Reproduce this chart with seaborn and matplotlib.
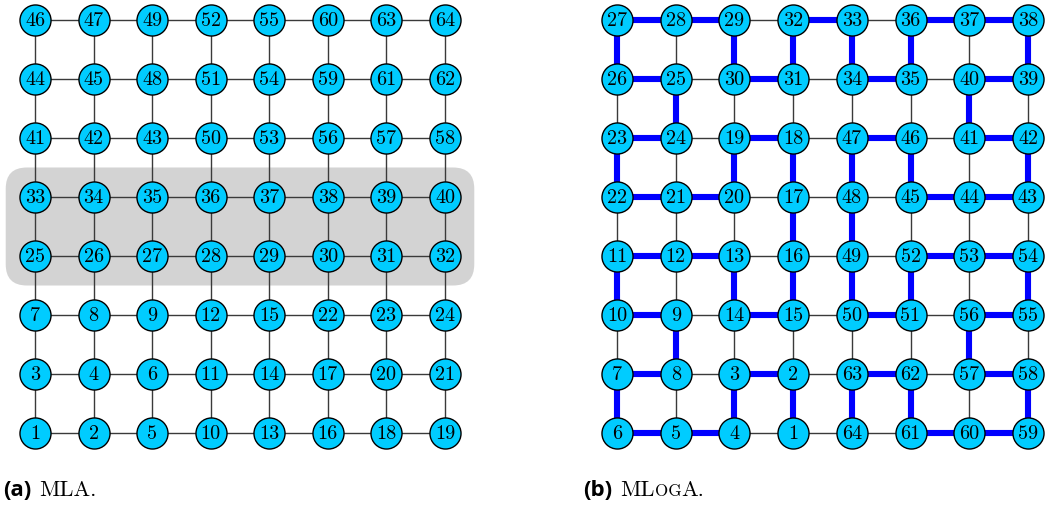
import numpy as np
import pandas as pd
import matplotlib
matplotlib.use("Agg")
import matplotlib.pyplot as plt
import seaborn as sns
from matplotlib.patches import FancyBboxPatch
from matplotlib.transforms import IdentityTransform

# ---------------- data ----------------
# node labels, rows listed top to bottom, columns left to right
mla_rows = [
    [46, 47, 49, 52, 55, 60, 63, 64],
    [44, 45, 48, 51, 54, 59, 61, 62],
    [41, 42, 43, 50, 53, 56, 57, 58],
    [33, 34, 35, 36, 37, 38, 39, 40],
    [25, 26, 27, 28, 29, 30, 31, 32],
    [7, 8, 9, 12, 15, 22, 23, 24],
    [3, 4, 6, 11, 14, 17, 20, 21],
    [1, 2, 5, 10, 13, 16, 18, 19],
]
mloga_rows = [
    [27, 28, 29, 32, 33, 36, 37, 38],
    [26, 25, 30, 31, 34, 35, 40, 39],
    [23, 24, 19, 18, 47, 46, 41, 42],
    [22, 21, 20, 17, 48, 45, 44, 43],
    [11, 12, 13, 16, 49, 52, 53, 54],
    [10, 9, 14, 15, 50, 51, 56, 55],
    [7, 8, 3, 2, 63, 62, 57, 58],
    [6, 5, 4, 1, 64, 61, 60, 59],
]
mla_band_rows = [3, 4]          # rows inside the grey band (top = 0)
caption_tags = ["(a)", "(b)"]
caption_a_parts = [("MLA.", True)]
caption_b_parts = [("ML", True), ("OG", False), ("A.", True)]  # small caps

# ---------------- style ----------------
W, H = 1051, 507
NODE_FILL = "#00CCFF"
PATH_BLUE = "#0000FF"
GRID_COL = "#3a3a3a"

sns.set_theme(style="white")
plt.rcParams["font.family"] = ["DejaVu Sans"]
plt.rcParams["text.color"] = "black"

fig = plt.figure(figsize=(W / 100, H / 100), dpi=100)

Y0, DY = 20.0, 59.0


def make_ax(px_left, px_right, x0px, dx):
    ax = fig.add_axes([px_left / W, 0, (px_right - px_left) / W, 1])
    ax.set_xlim((px_left - x0px) / dx, (px_right - x0px) / dx)
    ax.set_ylim((H - Y0) / DY, -Y0 / DY)
    ax.axis("off")
    return ax


def draw_grid(ax, rows, highlight_path):
    lab = np.array(rows)
    n_r, n_c = lab.shape
    for r in range(n_r):
        for c in range(n_c):
            for dr, dc in ((0, 1), (1, 0)):
                r2, c2 = r + dr, c + dc
                if r2 >= n_r or c2 >= n_c:
                    continue
                ax.plot([c, c2], [r, r2], color=GRID_COL, lw=1.0, zorder=1,
                        solid_capstyle="butt")
                if highlight_path and abs(lab[r, c] - lab[r2, c2]) == 1:
                    ax.plot([c, c2], [r, r2], color=PATH_BLUE, lw=4.4,
                            zorder=2, solid_capstyle="butt")
    df = pd.DataFrame(
        [(c, r, lab[r, c]) for r in range(n_r) for c in range(n_c)],
        columns=["col", "row", "label"],
    )
    sns.scatterplot(data=df, x="col", y="row", s=500, color=NODE_FILL,
                    edgecolor="black", linewidth=1.0, ax=ax, zorder=3,
                    legend=False)
    for _, rec in df.iterrows():
        ax.text(rec["col"], rec["row"] + 0.02, str(rec["label"]),
                ha="center", va="center", fontfamily="cmr10", fontsize=14.5,
                color="black", zorder=4)
    ax.set_xlabel("")
    ax.set_ylabel("")


# left panel
ax1 = make_ax(0, 525.5, 35.0, 58.57)
band = FancyBboxPatch((-0.5, min(mla_band_rows) - 0.5), 8.0,
                      len(mla_band_rows),
                      boxstyle="round,pad=0,rounding_size=0.36",
                      facecolor="#D3D3D3", edgecolor="none", zorder=0)
ax1.add_patch(band)
draw_grid(ax1, mla_rows, False)

# right panel
ax2 = make_ax(525.5, W, 617.0, 58.71)
draw_grid(ax2, mloga_rows, True)

# captions
BASE = 11


def caption(x_px, tag, parts):
    t = fig.text(x_px, BASE, tag, fontsize=16, fontweight="bold",
                 family=["Open Sans", "DejaVu Sans"], va="baseline",
                 color="black")
    t.set_transform(IdentityTransform())
    prev = t
    gap = 8
    for txt, big in parts:
        a = plt.Annotation(txt, xy=(1, BASE),
                           xycoords=(prev, "figure pixels"),
                           xytext=(gap, 0), textcoords="offset pixels",
                           fontsize=16 if big else 12.2, family="cmr10",
                           va="baseline", ha="left", color="black")
        fig.add_artist(a)
        prev = a
        gap = 0


caption(3, caption_tags[0], caption_a_parts)
caption(583, caption_tags[1], caption_b_parts)

fig.savefig("out.png", dpi=100)
